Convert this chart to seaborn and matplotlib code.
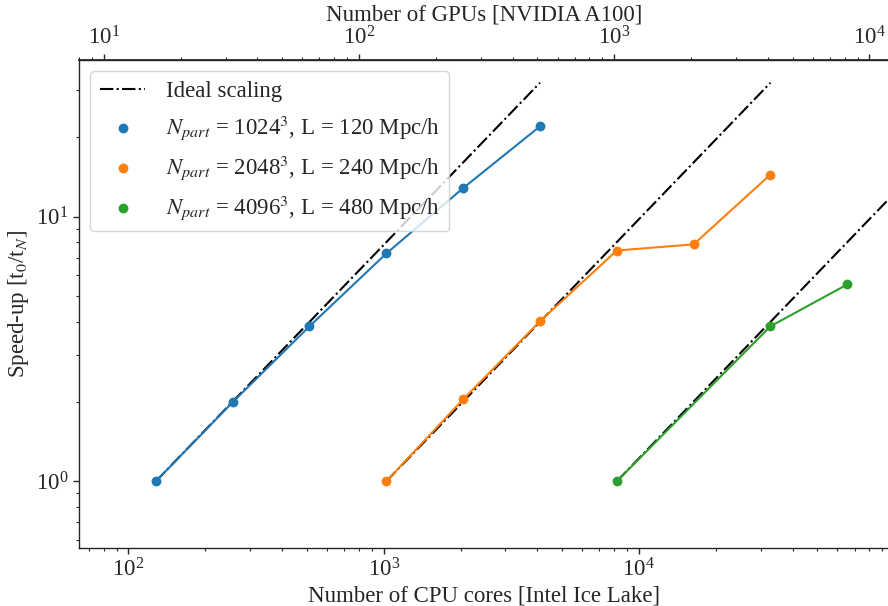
import numpy as np
import pandas as pd
import matplotlib
matplotlib.use("Agg")
import matplotlib.pyplot as plt
import seaborn as sns

# ---- data ----
cores_1024 = [128, 256, 512, 1024, 2048, 4096]
speed_1024 = [1.0, 1.99, 3.85, 7.25, 12.8, 21.9]
cores_2048 = [1024, 2048, 4096, 8192, 16384, 32768]
speed_2048 = [1.0, 2.04, 4.02, 7.44, 7.85, 14.4]
cores_4096 = [8192, 32768, 65536]
speed_4096 = [1.0, 3.85, 5.54]
ideal_ranges = [(128, 4096), (1024, 32768), (8192, 131072)]
labels = [r"$N_{part}$ = 1024$^3$, L = 120 Mpc/h",
          r"$N_{part}$ = 2048$^3$, L = 240 Mpc/h",
          r"$N_{part}$ = 4096$^3$, L = 480 Mpc/h"]
gpu_ticks = [10, 100, 1000, 10000]
cores_per_gpu = 8

sns.set_theme(style="ticks")
plt.rcParams['font.family'] = ['Liberation Serif', 'DejaVu Serif']
plt.rcParams['mathtext.fontset'] = 'stix'
fs = 16.5
plt.rcParams['font.size'] = fs
plt.rcParams['axes.labelsize'] = fs
plt.rcParams['xtick.labelsize'] = fs
plt.rcParams['ytick.labelsize'] = fs
plt.rcParams['legend.fontsize'] = fs

fig = plt.figure(figsize=(8.88, 6.06), dpi=100)
ax = fig.add_axes([79/888, 1-548/606, (889-79)/888, (548-60)/606])

colors = ["#1f77b4", "#ff7f0e", "#2ca02c"]
series = [(cores_1024, speed_1024), (cores_2048, speed_2048), (cores_4096, speed_4096)]

for i, (lo, hi) in enumerate(ideal_ranges):
    xs = [lo, hi]
    ys = [1.0, hi / lo]
    ax.plot(xs, ys, color="black", ls="-.", lw=1.5,
            label="Ideal scaling" if i == 0 else None, zorder=2)

for (x, y), c, lab in zip(series, colors, labels):
    df = pd.DataFrame({"cores": x, "speedup": y})
    sns.lineplot(data=df, x="cores", y="speedup", color=c, lw=1.5, ax=ax,
                 legend=False, zorder=3)
    sns.scatterplot(data=df, x="cores", y="speedup", color=c, s=50,
                    edgecolor=c, linewidth=0, ax=ax, label=lab, zorder=4)

ax.set_xscale("log")
ax.set_yscale("log")
ax.set_xlim(64, 95500)
ax.set_ylim(0.56, 39)
ax.set_xlabel("Number of CPU cores [Intel Ice Lake]", labelpad=3)
ax.set_ylabel(r"Speed-up [t$_0$/t$_N$]")

sec = ax.secondary_xaxis("top", functions=(lambda v: v / cores_per_gpu,
                                           lambda v: v * cores_per_gpu))
sec.set_xticks(gpu_ticks)
sec.set_xlabel("Number of GPUs [NVIDIA A100]", labelpad=4)

for a in (ax, sec):
    a.tick_params(which="major", length=4, width=1)
    a.tick_params(which="minor", length=2.5, width=0.8)
for s in ax.spines.values():
    s.set_linewidth(1.0)

leg = ax.legend(loc="upper left", frameon=True, fancybox=True, framealpha=0.8,
                edgecolor="#cccccc", handletextpad=0.9, borderpad=0.4)

fig.savefig("out.png", dpi=100)
